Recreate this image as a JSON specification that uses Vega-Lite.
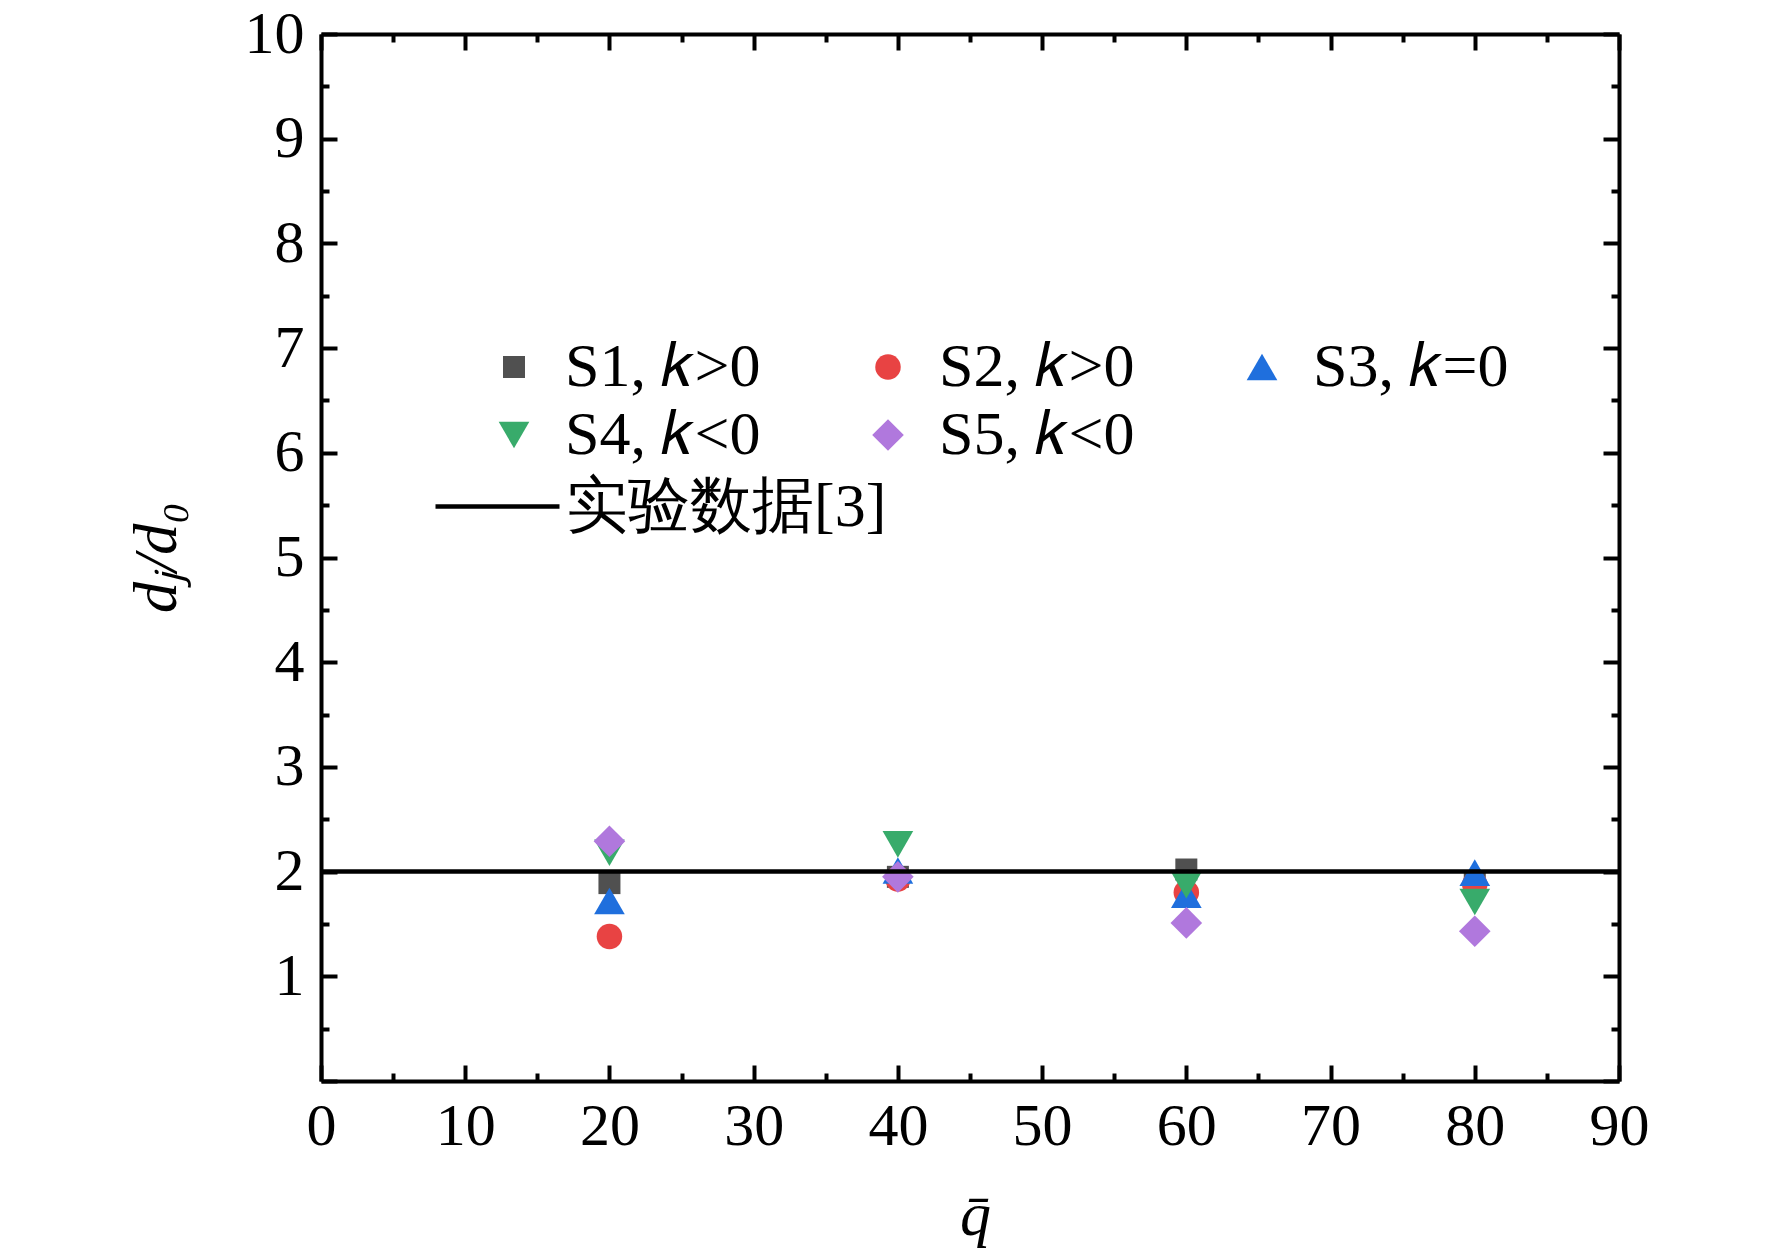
{
  "$schema": "https://vega.github.io/schema/vega-lite/v6.json",
  "width": 1298,
  "height": 1047,
  "autosize": "none",
  "padding": {"left": 321, "top": 34, "right": 153, "bottom": 176},
  "background": "white",
  "config": {
    "view": {"stroke": null},
    "font": "Liberation Serif",
    "axis": {
      "grid": false,
      "labelFont": "Liberation Serif",
      "labelFontSize": 60,
      "labelColor": "black",
      "labelFlush": false,
      "labelOverlap": false,
      "tickColor": "black",
      "tickWidth": 4,
      "domainColor": "black",
      "domainWidth": 4,
      "titleColor": "black",
      "titleFont": "Liberation Serif",
      "titleFontSize": 62,
      "titleFontWeight": "normal"
    }
  },
  "datasets": {
    "pts": [
      {"series": "S1, 𝑘>0", "q": 20, "v": 1.89},
      {"series": "S1, 𝑘>0", "q": 40, "v": 1.95},
      {"series": "S1, 𝑘>0", "q": 60, "v": 2.02},
      {"series": "S1, 𝑘>0", "q": 80, "v": 1.9},
      {"series": "S2, 𝑘>0", "q": 20, "v": 1.38},
      {"series": "S2, 𝑘>0", "q": 40, "v": 1.93},
      {"series": "S2, 𝑘>0", "q": 60, "v": 1.8},
      {"series": "S2, 𝑘>0", "q": 80, "v": 1.88},
      {"series": "S3, 𝑘=0", "q": 20, "v": 1.72},
      {"series": "S3, 𝑘=0", "q": 40, "v": 2.01},
      {"series": "S3, 𝑘=0", "q": 60, "v": 1.78},
      {"series": "S3, 𝑘=0", "q": 80, "v": 1.99},
      {"series": "S4, 𝑘<0", "q": 20, "v": 2.18},
      {"series": "S4, 𝑘<0", "q": 40, "v": 2.26},
      {"series": "S4, 𝑘<0", "q": 60, "v": 1.87},
      {"series": "S4, 𝑘<0", "q": 80, "v": 1.71},
      {"series": "S5, 𝑘<0", "q": 20, "v": 2.29},
      {"series": "S5, 𝑘<0", "q": 40, "v": 1.95},
      {"series": "S5, 𝑘<0", "q": 60, "v": 1.51},
      {"series": "S5, 𝑘<0", "q": 80, "v": 1.43}
    ],
    "ref": [
      {"v": 2, "label": "实验数据[3]"}
    ]
  },
  "layer": [
    {
      "data": {"name": "pts"},
      "mark": {"type": "point", "filled": true, "opacity": 1},
      "encoding": {
        "x": {
          "field": "q",
          "type": "quantitative",
          "scale": {"domain": [0, 90], "nice": false, "zero": false},
          "axis": {
            "orient": "bottom",
            "values": [0, 10, 20, 30, 40, 50, 60, 70, 80, 90],
            "tickSize": -16,
            "labelPadding": 32,
            "title": "q̄",
            "titleFontStyle": "italic",
            "titleX": 654,
            "titleY": 134,
            "titleAlign": "center",
            "titleBaseline": "middle"
          }
        },
        "y": {
          "field": "v",
          "type": "quantitative",
          "scale": {"domain": [0, 10], "nice": false},
          "axis": {
            "orient": "left",
            "values": [0, 1, 2, 3, 4, 5, 6, 7, 8, 9, 10],
            "labelExpr": "datum.value === 0 ? '' : datum.label",
            "tickSize": -16,
            "labelPadding": 33,
            "title": "dⱼ/d₀",
            "titleFontStyle": "italic",
            "titleX": -165,
            "titleY": 523,
            "titleAlign": "center",
            "titleBaseline": "middle",
            "titleAngle": -90
          }
        },
        "color": {
          "field": "series",
          "type": "nominal",
          "scale": {
            "domain": ["S1, 𝑘>0", "S4, 𝑘<0", "S2, 𝑘>0", "S5, 𝑘<0", "S3, 𝑘=0"],
            "range": ["#505050", "#38ab6b", "#e84343", "#b078dd", "#1f6fdd"]
          },
          "legend": {
            "title": null,
            "orient": "none",
            "legendX": 162,
            "legendY": 302,
            "columns": 3,
            "columnPadding": 96,
            "rowPadding": 6,
            "padding": 0,
            "labelFont": "Liberation Serif",
            "labelFontSize": 62,
            "labelColor": "black",
            "labelOffset": 20,
            "labelLimit": 0,
            "symbolStrokeWidth": 0
          }
        },
        "shape": {
          "field": "series",
          "type": "nominal",
          "scale": {
            "domain": ["S1, 𝑘>0", "S4, 𝑘<0", "S2, 𝑘>0", "S5, 𝑘<0", "S3, 𝑘=0"],
            "range": ["square", "triangle-down", "circle", "diamond", "triangle-up"]
          }
        },
        "size": {
          "field": "series",
          "type": "nominal",
          "scale": {
            "type": "ordinal",
            "domain": ["S1, 𝑘>0", "S4, 𝑘<0", "S2, 𝑘>0", "S5, 𝑘<0", "S3, 𝑘=0"],
            "range": [484, 940, 650, 1000, 940]
          }
        }
      }
    },
    {
      "data": {"name": "pts"},
      "mark": {"type": "point", "opacity": 0},
      "encoding": {
        "x": {
          "field": "q",
          "type": "quantitative",
          "scale": {"domain": [0, 90], "nice": false, "zero": false},
          "axis": {"orient": "top", "values": [0, 10, 20, 30, 40, 50, 60, 70, 80, 90], "tickSize": -16, "labels": false, "title": null}
        },
        "y": {
          "field": "v",
          "type": "quantitative",
          "scale": {"domain": [0, 10], "nice": false},
          "axis": {"orient": "right", "values": [0, 1, 2, 3, 4, 5, 6, 7, 8, 9, 10], "tickSize": -16, "labels": false, "title": null}
        }
      }
    },
    {
      "data": {"name": "pts"},
      "mark": {"type": "point", "opacity": 0},
      "encoding": {
        "x": {
          "field": "q",
          "type": "quantitative",
          "scale": {"domain": [0, 90], "nice": false, "zero": false},
          "axis": {"orient": "bottom", "values": [5, 15, 25, 35, 45, 55, 65, 75, 85], "tickSize": -8, "labels": false, "domain": false, "title": null}
        },
        "y": {
          "field": "v",
          "type": "quantitative",
          "scale": {"domain": [0, 10], "nice": false},
          "axis": {"orient": "left", "values": [0.5, 1.5, 2.5, 3.5, 4.5, 5.5, 6.5, 7.5, 8.5, 9.5], "tickSize": -8, "labels": false, "domain": false, "title": null}
        }
      }
    },
    {
      "data": {"name": "pts"},
      "mark": {"type": "point", "opacity": 0},
      "encoding": {
        "x": {
          "field": "q",
          "type": "quantitative",
          "scale": {"domain": [0, 90], "nice": false, "zero": false},
          "axis": {"orient": "top", "values": [5, 15, 25, 35, 45, 55, 65, 75, 85], "tickSize": -8, "labels": false, "domain": false, "title": null}
        },
        "y": {
          "field": "v",
          "type": "quantitative",
          "scale": {"domain": [0, 10], "nice": false},
          "axis": {"orient": "right", "values": [0.5, 1.5, 2.5, 3.5, 4.5, 5.5, 6.5, 7.5, 8.5, 9.5], "tickSize": -8, "labels": false, "domain": false, "title": null}
        }
      }
    },
    {
      "data": {"name": "ref"},
      "mark": {"type": "rule", "strokeWidth": 4.5},
      "encoding": {
        "y": {
          "field": "v",
          "type": "quantitative",
          "scale": {"domain": [0, 10], "nice": false},
          "axis": null
        },
        "stroke": {
          "field": "label",
          "type": "nominal",
          "scale": {"range": ["black"]},
          "legend": {
            "title": null,
            "orient": "none",
            "legendX": 112,
            "legendY": 408,
            "padding": 0,
            "symbolType": "stroke",
            "symbolSize": 15376,
            "symbolStrokeWidth": 4.5,
            "labelFont": "Liberation Serif",
            "labelFontSize": 62,
            "labelColor": "black",
            "labelOffset": 4,
            "labelLimit": 0
          }
        }
      }
    }
  ],
  "resolve": {"axis": {"x": "independent", "y": "independent"}}
}
